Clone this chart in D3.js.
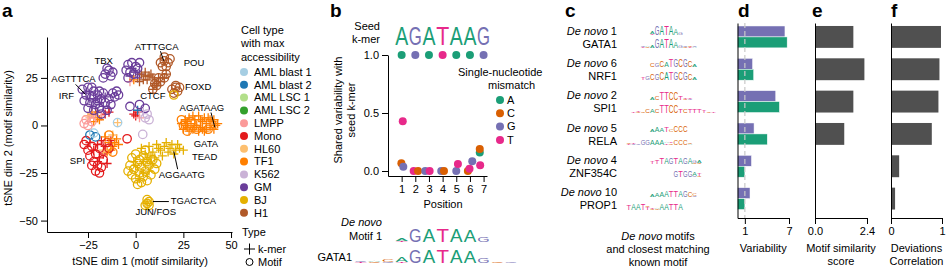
<!DOCTYPE html>
<html>
<head>
<meta charset="utf-8">
<script src="https://cdn.jsdelivr.net/npm/d3@7"></script>
<style>
  body { margin: 0; background: #fff; }
  svg text { font-family: "Liberation Sans", Arial, Helvetica, sans-serif; }
</style>
</head>
<body>
<div id="chart"></div>
<script>
// --------------------
// DATA
// --------------------
const cellTypes = ["AML blast 1", "AML blast 2", "AML LSC 1", "AML LSC 2", "LMPP", "Mono",
  "HL60", "TF1", "K562", "GM", "BJ", "H1"];
const cellColors = ["#a6cee3", "#1f78b4", "#b2df8a", "#33a02c", "#fb9a99", "#e31a1c",
  "#fdbf6f", "#ff7f00", "#cab2d6", "#6a3d9a", "#e5b000", "#b15928"];

// tSNE points [dim1, dim2, cell type index]
const kmerPoints = [
  [-24,14,9],[-21,14,9],[-19,12,9],[-17,10,9],[-23,10,9],[-16,15,9],[-20,7,9],[-14,9,9],[-26,17,9],
  [-16,6,5],[-14,7,5],[-18,5,4],
  [-2,30,9],[0,28,9],[-3,26,9],[1,25,9],[2,27,9],
  [3,27,11],[5,28,11],[7,26,11],[4,24,11],[6,24,11],[8,27,11],[2,23,11],[5,26,11],[9,25,11],
  [-3,23,4],[-1,24,7],
  [9,19,11],[11,21,11],[13,23,11],[15,25,11],[16,27,11],[10,22,11],[12,25,11],
  [0,5,5],[1,7,5],[-1,6,5],[2,4,4],[4,7,8],[1,8,1],
  [-9.5,1.5,6],
  [-22,2,7],[-20,4,7],[-23,6,7],[-21,7,7],[-19,3,7],[-24,4,4],[-22,5,4],[-25,5,6],
  [-20,-10,5],[-18,-8,5],[-16,-11,5],[-22,-13,5],[-17,-15,5],[-19,-17,5],[-13,-8,5],[-24,-9,5],[-15,-20,5],[-20,-19,5],
  [-16,-6,7],[-14,-9,7],[-12,-11,7],[-10,-7,7],[-13,-13,7],[-11,-9,7],[-15,-14,7],[-9,-10,7],[-12,-5,6],[-17,-13,6],
  [24,1,7],[26,3,7],[27,-1,7],[28,4,7],[29,1,7],[30,-2,7],[31,3,7],[32,0,7],[33,5,7],[34,-1,7],[35,2,7],
  [36,-3,7],[37,1,7],[38,4,7],[39,-1,7],[40,2,7],[41,-2,7],[42,0,7],[30,5,7],[27,2,7],[25,-2,7],[33,-3,7],
  [36,4,7],[39,3,7],[43,1,7],[35,-2,7],[31,-1,7],[28,-3,7],[26,0,7],[34,3,7],[41,3,7],[37,-2,7],
  [3,-12,10],[5,-15,10],[7,-11,10],[9,-14,10],[11,-10,10],[13,-13,10],[15,-11,10],[17,-14,10],[19,-10,10],
  [21,-13,10],[23,-12,10],[14,-16,10],[10,-17,10],[6,-18,10],[18,-12,10],[12,-12,10],[8,-16,10],[20,-15,10],
  [16,-9,10],[22,-10,10],[25,-13,10],[4,-19,10],
  [0,-21,10],[4,-25,10],[2,-28,10],[7,-24,10],[-1,-19,10],[8,-20,10],
  [6,-41,10]
];
const motifPoints = [
  [-16,27,9],[-14,29,9],[-17,25,9],[-13,26,9],[-15,30,9],[-12,28,9],
  [-28,19,9],[-25,20,9],[-22,18,9],[-26,16,9],[-23,15,9],[-20,16,9],[-18,14,9],[-24,12,9],[-21,11,9],
  [-19,9,9],[-16,12,9],[-14,14,9],[-12,17,9],[-10,18,9],[-11,15,9],[-15,8,9],[-18,6,9],[-22,8,9],
  [-27,13,9],[-13,11,9],[-17,17,9],[-20,13,9],[-25,9,9],[-9,16,9],[-23,20,9],[-19,18,9],
  [-4,32,9],[-2,33,9],[0,31,9],[-5,29,9],[-3,28,9],[1,30,9],[-1,27,9],[2,33,9],[-4,25,9],
  [13,33,11],[15,34,11],[17,33,11],[14,31,11],[16,31,11],[18,35,11],[15,36,11],
  [9,19,11],[11,21,11],[13,23,11],[15,25,11],[16,27,11],[10,22,11],[12,25,11],
  [19,19,11],[21,20,11],[22,18,11],[20,17,11],[23,20,11],[21,21,11],[20,16,10],
  [-3,10,9],[2,11,9],[5,9,9],[5,4,8],[7,3,8],[6,6,8],[3.7,-4.7,8],[-4.5,-7,5],
  [-9.5,1.5,0],
  [-27,1,4],[-25,0,4],[-23,2,4],[-26,3,4],
  [-27,-10,5],[-25,-13,5],[-23,-11,5],[-26,-8,5],[-21,-15,5],[-24,-16,5],[-22,-19,5],[-20,-21,5],
  [-21,-24,5],[-19,-25,5],[-18,-22,5],[-23,-21,5],[-17,-18,5],[-19,-12,5],[-15,-9,5],[-14,-12,5],
  [-14,-5,7],[-12,-14,7],[-24,-5,1],[-21,-6,1],[-22,-4,0],
  [25,0,7],[27,-3,7],[29,2,7],[24,3,7],[32,-2,7],[38,-2,7],
  [-2,-17,10],[0,-15,10],[2,-18,10],[4,-16,10],[6,-19,10],[-3,-21,10],[-1,-23,10],[1,-20,10],
  [3,-22,10],[5,-24,10],[7,-21,10],[9,-18,10],[-2,-26,10],[0,-28,10],[2,-25,10],[4,-27,10],
  [6,-29,10],[8,-26,10],[10,-23,10],[1,-31,10],[3,-30,10],[-4,-24,10],[11,-20,10],[5,-13,10],
  [6,-41,10],[7,-40,10],[5,-42,10],[7,-42,10],[6,-39,10]
];
// cluster annotations [text, dim1, dim2, anchor]
const tsneLabels = [
  ["ATTTGCA", 11, 41, "middle"], ["POU", 25.2, 32.6, "start"], ["TBX", -16.8, 33.7, "middle"],
  ["AGTTTCA", -32.6, 24.2, "middle"], ["IRF", -36.3, 15.3, "middle"], ["CTCF", 9, 15.3, "middle"],
  ["FOXD", 25.8, 20, "start"], ["AGATAAG", 34.7, 9, "middle"], ["GATA", 36.8, -10, "middle"],
  ["SPI", -30.5, -19, "middle"], ["TEAD", 29.5, -16.8, "start"], ["AGGAATG", 24.2, -26.3, "middle"],
  ["TGACTCA", 18.4, -40, "start"], ["JUN/FOS", 10.5, -45.8, "middle"]
];
const tsneLeaders = [
  [-31.5, 21.6, -26.3, 16.3], [13, 39, 14.7, 34], [39.5, 6.8, 41.5, -1],
  [20, -13.7, 22, -23], [9, -40, 17.4, -40]
];

// panel b
const nucColors = { A: "#1b9e77", C: "#d95f02", G: "#7570b3", T: "#e7298a" };
const seedKmer = ["A", "G", "A", "T", "A", "A", "G"];
const mismatchLetters = ["A", "C", "G", "T"];
// [position (as drawn), mismatch base, shared variability]
const mismatches = [
  [0.98, "C", 0.066], [1.12, "G", 0.037], [1.08, "T", 0.43],
  [1.88, "T", 0], [2.2, "C", 0],
  [2.73, "G", 0], [3.05, "T", 0],
  [3.9, "G", 0], [4.1, "C", 0],
  [5.0, "G", 0], [5.12, "T", 0.06],
  [5.85, "C", 0], [5.97, "T", 0.02], [6.17, "G", 0.085],
  [6.75, "T", 0.05], [6.72, "A", 0.16], [6.72, "C", 0.19]
];
// logos: each column is bases stacked bottom to top, heights in tenths
const motif1Logo = ["T1A2", "G9", "A9", "T9", "A9", "A8", "G3"];
const gata1Logo = ["T1G1", "C1A1", "G1C2", "T1A3", "G9", "A9", "T9", "A9", "A8", "G3", "C1", "G1"];

// panels c-f
const deNovoIds = [1, 6, 2, 5, 4, 10];
const knownNames = ["GATA1", "NRF1", "SPI1", "RELA", "ZNF354C", "PROP1"];
const deNovoLogos = [
  ["T1A3", "G10", "A10", "T10", "A10", "A8", "G3"],
  ["C5", "G4", "C8", "A6", "T9", "G9", "C9", "G9", "C8", "A3"],
  ["A3", "C5", "T9", "T9", "C9", "C9", "T5", "C1T2", "G1T2"],
  ["A3", "A6", "A5", "T6", "C3", "C7", "C7", "C7"],
  ["T3", "T5", "T8", "A8", "G8", "T8", "A8", "G8", "A8", "C1G3", "C1A3"],
  ["A3", "A4", "A6", "A7", "T8", "T8", "A8", "G7", "C6", "G1C3"]
];
const knownLogos = [
  ["T1G1", "C1A2", "A3", "G10", "A10", "T10", "A10", "A8", "G3", "C1G1", "T1C1", "A1G1"],
  ["T3", "G4", "C8", "G8", "C9", "A9", "T9", "G9", "C9", "G9", "C8", "A3"],
  ["T2", "C1T2", "C2", "C4", "A5", "C5", "T9", "T9", "C9", "C9", "T5", "C4", "T5", "T5", "T5", "T3", "C2", "T1"],
  ["T1C1", "G1T1", "G2", "G6", "G6", "A6", "A6", "A6", "T2A2", "C2T2", "C6", "C6", "C6", "A1C1"],
  ["G7", "T7", "G7", "G7", "G1A4", "C1T3"],
  ["T6", "A7", "A7", "T7", "T3C2", "C1T2", "C1A2", "A7", "A7", "T7", "T7", "A7"]
];
const knownOffsets = [-2, -2, -4, -5, 5, -5];
const variabilityKmer = [6.45, 2.05, 5.2, 2.25, 1.9, 1.7];
const variabilityMotif = [6.75, 2.2, 5.7, 4.05, 1.0, 1.0];
const similarityScore = [1.77, 2.28, 1.77, 1.35, 0, 0];
const deviationCorr = [0.98, 0.95, 0.93, 0.80, 0.16, 0.08];


// --------------------
// SETUP
// --------------------
const width = 946;
const height = 270;
const FS = 11;

const svg = d3.select("#chart")
  .append("svg")
  .attr("width", width)
  .attr("height", height);

function styleAxis(g) {
  g.attr("font-size", FS).attr("font-family", null);
  g.selectAll("path, line").attr("stroke", "#000");
  g.selectAll("text").attr("fill", "#000");
}

function panelLetter(x, t) {
  svg.append("text").attr("x", x).attr("y", 17)
    .attr("font-size", 19).attr("font-weight", "bold").text(t);
}

const glyphW = { A: 0.667, C: 0.722, G: 0.778, T: 0.611 };
function drawLogo(g, cols, xPos, colW, baseline, maxH) {
  cols.forEach((col, i) => {
    let yb = baseline;
    (col.match(/[ACGT]\d+/g) || []).forEach(s => {
      const base = s[0];
      const hh = +s.slice(1) / 10 * maxH;
      g.append("text")
        .attr("transform", `translate(${xPos(i)},${yb}) scale(${colW / (glyphW[base] * 10)},${hh / 7.16})`)
        .attr("text-anchor", "middle")
        .attr("font-size", 10)
        .attr("fill", nucColors[base])
        .text(base);
      yb -= hh;
    });
  });
}

function italicLead(sel, rest) {
  sel.append("tspan").attr("font-style", "italic").text("De novo");
  sel.append("tspan").text(rest);
}


// --------------------
// PANEL A: tSNE
// --------------------
panelLetter(2, "a");
const xA = d3.scaleLinear().domain([-46.5, 50.5]).range([47, 232]);
const yA = d3.scaleLinear().domain([-56, 46.5]).range([232, 37]);

svg.append("g")
  .attr("transform", `translate(0,${yA.range()[0]})`)
  .call(d3.axisBottom(xA).tickValues([-25, 0, 25, 50]).tickSizeOuter(0))
  .call(styleAxis);
svg.append("g")
  .attr("transform", `translate(${xA.range()[0]},0)`)
  .call(d3.axisLeft(yA).tickValues([-50, -25, 0, 25]).tickSizeOuter(0))
  .call(styleAxis);

svg.append("text").attr("x", 140).attr("y", 265).attr("text-anchor", "middle")
  .attr("font-size", FS).text("tSNE dim 1 (motif similarity)");
svg.append("text").attr("transform", "translate(12,138) rotate(-90)").attr("text-anchor", "middle")
  .attr("font-size", FS).text("tSNE dim 2 (motif similarity)");

const gPts = svg.append("g").attr("fill", "none").attr("stroke-width", 1.3);
gPts.selectAll(".kmer").data(kmerPoints).join("path")
  .attr("d", "M-4.5,0H4.5M0,-4.5V4.5")
  .attr("transform", d => `translate(${xA(d[0])},${yA(d[1])})`)
  .attr("stroke", d => cellColors[d[2]]);
gPts.selectAll(".motif").data(motifPoints).join("circle")
  .attr("cx", d => xA(d[0])).attr("cy", d => yA(d[1])).attr("r", 4.2)
  .attr("stroke", d => cellColors[d[2]]);

svg.append("g").selectAll("line").data(tsneLeaders).join("line")
  .attr("x1", d => xA(d[0])).attr("y1", d => yA(d[1]))
  .attr("x2", d => xA(d[2])).attr("y2", d => yA(d[3]))
  .attr("stroke", "#000").attr("stroke-width", 1);
svg.append("g").selectAll("text").data(tsneLabels).join("text")
  .attr("x", d => xA(d[1])).attr("y", d => yA(d[2]))
  .attr("text-anchor", d => d[3]).attr("dominant-baseline", "middle")
  .attr("font-size", 9.5).text(d => d[0]);

// legend
const legA = svg.append("g").attr("font-size", FS);
["Cell type", "with max", "accessibility"].forEach((t, i) =>
  legA.append("text").attr("x", 241).attr("y", 34 + i * 13.3).text(t));
const legItems = legA.selectAll(".item").data(cellTypes).join("g")
  .attr("transform", (d, i) => `translate(0,${72 + i * 12.8})`);
legItems.append("circle").attr("cx", 244).attr("r", 4).attr("fill", (d, i) => cellColors[i]);
legItems.append("text").attr("x", 254).attr("dy", "0.35em").text(d => d);
legA.append("text").attr("x", 242).attr("y", 236).text("Type");
legA.append("path").attr("d", "M244,249H255M249.5,243.5V254.5").attr("stroke", "#000").attr("stroke-width", 1);
legA.append("text").attr("x", 258).attr("y", 249).attr("dy", "0.35em").text("k-mer");
legA.append("circle").attr("cx", 249.5).attr("cy", 262).attr("r", 3.5)
  .attr("fill", "none").attr("stroke", "#000").attr("stroke-width", 1);
legA.append("text").attr("x", 258).attr("y", 262).attr("dy", "0.35em").text("Motif");


// --------------------
// PANEL B: seed k-mer mismatches
// --------------------
panelLetter(330, "b");
const xB = d3.scaleLinear().domain([0, 7.25]).range([388, 487]);
const yB = d3.scaleLinear().domain([-0.043, 1]).range([176, 55]);

svg.append("g")
  .attr("transform", `translate(0,${yB.range()[0]})`)
  .call(d3.axisBottom(xB).tickValues([1, 2, 3, 4, 5, 6, 7]).tickSizeOuter(0))
  .call(styleAxis);
svg.append("g")
  .attr("transform", `translate(${xB.range()[0]},0)`)
  .call(d3.axisLeft(yB).tickValues([0, 0.5, 1]).tickFormat(d3.format(".1f")).tickSizeOuter(0))
  .call(styleAxis);

svg.append("text").attr("x", 443).attr("y", 208).attr("text-anchor", "middle")
  .attr("font-size", FS).text("Position");
const yTitleB = svg.append("text").attr("transform", "translate(342,110) rotate(-90)")
  .attr("text-anchor", "middle").attr("font-size", FS);
yTitleB.append("tspan").attr("x", 0).attr("dy", 0).text("Shared variability with");
yTitleB.append("tspan").attr("x", 0).attr("dy", 13).text("seed k-mer");

svg.append("text").attr("x", 380).attr("y", 30).attr("text-anchor", "end").attr("font-size", FS).text("Seed");
svg.append("text").attr("x", 380).attr("y", 43).attr("text-anchor", "end").attr("font-size", FS).text("k-mer");
drawLogo(svg.append("g"), seedKmer.map(b => b + "10"), i => xB(i + 1), 13, 45, 18);

// points
const gB = svg.append("g");
gB.selectAll(".seed").data(seedKmer).join("circle")
  .attr("cx", (d, i) => xB(i + 1)).attr("cy", yB(1)).attr("r", 4)
  .attr("fill", d => nucColors[d]);
gB.selectAll(".mm").data(mismatches).join("circle")
  .attr("cx", d => xB(d[0])).attr("cy", d => yB(d[2])).attr("r", 4)
  .attr("fill", d => nucColors[d[1]]);

// legend
svg.append("text").attr("x", 458).attr("y", 76).attr("font-size", FS).text("Single-nucleotide");
svg.append("text").attr("x", 488).attr("y", 89).attr("font-size", FS).text("mismatch");
const legB = svg.append("g").selectAll("g").data(mismatchLetters).join("g")
  .attr("transform", (d, i) => `translate(500,${100 + i * 13.3})`);
legB.append("circle").attr("r", 4).attr("fill", d => nucColors[d]);
legB.append("text").attr("x", 7).attr("dy", "0.35em").attr("font-size", FS).text(d => d);

// motif logos under panel b
italicLead(svg.append("text").attr("x", 382).attr("y", 226).attr("text-anchor", "end").attr("font-size", FS), "");
svg.append("text").attr("x", 382).attr("y", 240).attr("text-anchor", "end").attr("font-size", FS).text("Motif 1");
svg.append("text").attr("x", 352).attr("y", 261).attr("text-anchor", "end").attr("font-size", FS).text("GATA1");
drawLogo(svg.append("g"), motif1Logo, i => xB(i + 1), 12.5, 242, 15);
drawLogo(svg.append("g"), gata1Logo, i => xB(i - 2), 12.5, 263, 15);


// --------------------
// PANELS C-F
// --------------------
const rows = d3.range(deNovoIds.length);
const yRow = d3.scaleBand().domain(rows).range([23, 218])
  .paddingInner(0.323).paddingOuter(0.177).align(0.26);
const rowMid = i => yRow(i) + yRow.bandwidth() / 2;

// panel c
panelLetter(565, "c");
const xLogo = d3.scaleLinear().domain([0, 1]).range([650, 654.7]);
rows.forEach(i => {
  italicLead(svg.append("text").attr("x", 617).attr("y", rowMid(i) - 6).attr("dy", "0.35em")
    .attr("text-anchor", "end").attr("font-size", FS), " " + deNovoIds[i]);
  svg.append("text").attr("x", 617).attr("y", rowMid(i) + 7).attr("dy", "0.35em")
    .attr("text-anchor", "end").attr("font-size", FS).text(knownNames[i]);
  drawLogo(svg.append("g"), deNovoLogos[i], c => xLogo(c + 0.5), 4.6, rowMid(i) - 2, 8.5);
  drawLogo(svg.append("g"), knownLogos[i], c => xLogo(c + knownOffsets[i] + 0.5), 4.6, rowMid(i) + 11, 8.5);
});
const capC = svg.append("g").attr("font-size", FS).attr("text-anchor", "middle");
italicLead(capC.append("text").attr("x", 658).attr("y", 240), " motifs");
capC.append("text").attr("x", 658).attr("y", 253).text("and closest matching");
capC.append("text").attr("x", 658).attr("y", 266).text("known motif");

// bar panels
function barPanel(letter, lx, scale, ticks, fmt, title) {
  panelLetter(lx, letter);
  svg.append("g")
    .attr("transform", `translate(0,${yRow.range()[1]})`)
    .call(d3.axisBottom(scale).tickValues(ticks).tickFormat(fmt).tickSizeOuter(0))
    .call(styleAxis);
  svg.append("g")
    .attr("transform", `translate(${scale.range()[0]},0)`)
    .call(d3.axisLeft(yRow).tickValues([]).tickSizeOuter(0))
    .call(styleAxis);
  title.forEach((t, i) => svg.append("text").attr("x", d3.mean(scale.range()))
    .attr("y", 252 + i * 13).attr("text-anchor", "middle").attr("font-size", FS).text(t));
}

// panel d
const xD = d3.scaleLinear().domain([0, 7]).range([737.5, 789]);
const half = yRow.bandwidth() / 2;
svg.append("g").selectAll("rect").data(variabilityKmer).join("rect")
  .attr("x", xD(0)).attr("y", (d, i) => yRow(i)).attr("width", d => xD(d) - xD(0)).attr("height", half)
  .attr("fill", nucColors.G).attr("stroke", "#fff").attr("stroke-width", 0.5);
svg.append("g").selectAll("rect").data(variabilityMotif).join("rect")
  .attr("x", xD(0)).attr("y", (d, i) => yRow(i) + half).attr("width", d => xD(d) - xD(0)).attr("height", half)
  .attr("fill", nucColors.A).attr("stroke", "#fff").attr("stroke-width", 0.5);
svg.append("line").attr("x1", xD(1)).attr("x2", xD(1)).attr("y1", yRow.range()[0]).attr("y2", yRow.range()[1])
  .attr("stroke", "#c8c8c8").attr("stroke-width", 1.2).attr("stroke-dasharray", "5,3");
barPanel("d", 738, xD, [1, 7], d3.format("d"), ["Variability"]);

// panel e
const xE = d3.scaleLinear().domain([0, 2.4]).range([815, 867]);
svg.append("g").selectAll("rect").data(similarityScore).join("rect")
  .attr("x", xE(0)).attr("y", (d, i) => yRow(i)).attr("width", d => xE(d) - xE(0))
  .attr("height", yRow.bandwidth()).attr("fill", "#505050");
barPanel("e", 812, xE, [0, 2.4], d3.format(".1f"), ["Motif similarity", "score"]);

// panel f
const xF = d3.scaleLinear().domain([0, 1]).range([891, 942]);
svg.append("g").selectAll("rect").data(deviationCorr).join("rect")
  .attr("x", xF(0)).attr("y", (d, i) => yRow(i)).attr("width", d => xF(d) - xF(0))
  .attr("height", yRow.bandwidth()).attr("fill", "#505050");
barPanel("f", 891, xF, [0, 1], d3.format("d"), ["Deviations", "Correlation"]);
</script>
</body>
</html>
